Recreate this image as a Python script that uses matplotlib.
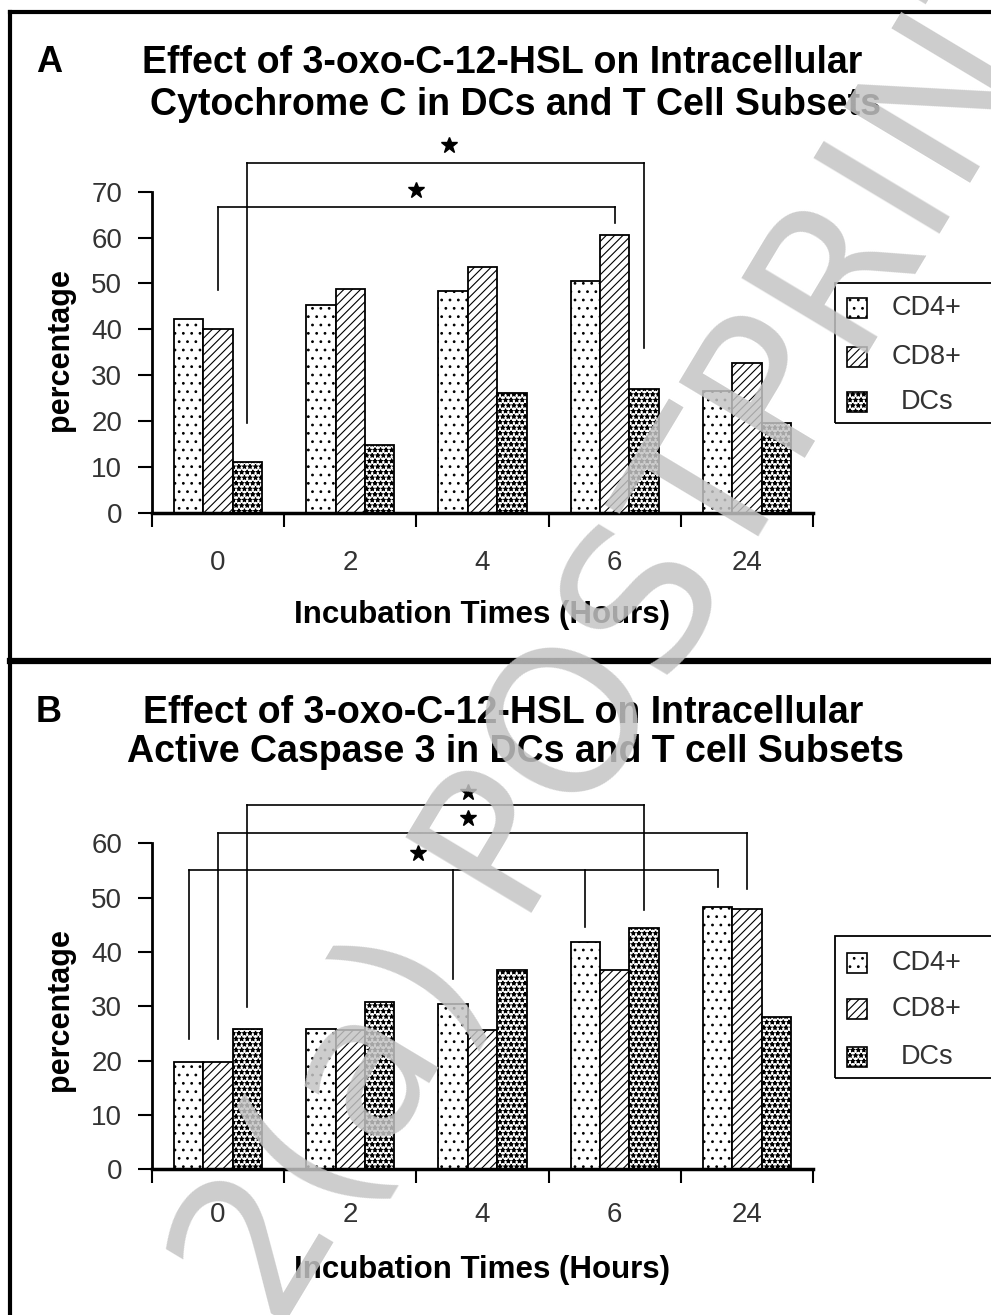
import numpy as np
import matplotlib
matplotlib.use("Agg")
import matplotlib.pyplot as plt
from matplotlib.patches import Rectangle
from matplotlib.lines import Line2D

W, H = 991, 1315

hours = ["0", "2", "4", "6", "24"]
series = ["CD4+", "CD8+", "DCs"]
hatches = ["..", "////", "***"]

# panel A: intracellular cytochrome C (%)
cyto_cd4 = [42.2, 45.2, 48.3, 50.5, 26.5]
cyto_cd8 = [40.0, 48.8, 53.5, 60.6, 32.6]
cyto_dc = [11.1, 14.7, 26.0, 26.9, 19.5]

# panel B: active caspase 3 (%)
casp_cd4 = [19.7, 25.9, 30.4, 41.8, 48.3]
casp_cd8 = [19.7, 25.6, 25.6, 36.6, 48.0]
casp_dc = [25.9, 30.8, 36.6, 44.4, 28.1]

# significance brackets: series, [(group, drop to)], level, star x, star y
brackets_a = [
    (1, [(0, 48.6), (3, 63.2)], 66.7, 1.50, 70.3),
    (2, [(0, 19.6), (3, 35.9)], 76.2, 1.745, 80.1),
]
brackets_b = [
    (2, [(0, 29.9), (3, 47.7)], 67.1, 1.89, 69.5),
    (1, [(0, 24.0), (4, 51.6)], 61.9, 1.89, 64.7),
    (0, [(0, 24.0), (2, 35.0), (3, 44.6), (4, 52.0)], 55.1, 1.51, 58.2),
]

plt.rcParams['font.family'] = ['Liberation Sans', 'DejaVu Sans']
plt.rcParams['hatch.linewidth'] = 0.8

bw = 0.222
offsets = [-bw, 0.0, bw]


def fx(x):
    return x / W


def fy(y):
    return 1 - y / H


def draw_panel(fig, rect, values, ymax, brackets, xpad, ylab_y, xlab_y):
    ax = fig.add_axes(rect)
    x = np.arange(len(hours))
    for i, vals in enumerate(values):
        ax.bar(x + offsets[i], vals, width=bw, color='white', edgecolor='black',
               hatch=hatches[i], linewidth=1.3, zorder=2)
    ax.set_xlim(-0.5, 4.5)
    ax.set_ylim(0, ymax)
    ax.set_yticks(range(0, ymax + 1, 10))
    ax.set_xticks(np.arange(-0.5, 5.0, 1.0))
    ax.set_xticklabels([])
    ax.set_xticks(x, minor=True)
    ax.set_xticklabels(hours, minor=True)
    ax.tick_params(axis='x', which='minor', length=0, pad=xpad, labelsize=20,
                   labelcolor='#333333')
    ax.tick_params(axis='x', which='major', length=10, width=1.5, direction='out')
    ax.tick_params(axis='y', length=10, width=1.5, direction='out', pad=11.5,
                   labelsize=20, labelcolor='#333333')
    for s in ['top', 'right']:
        ax.spines[s].set_visible(False)
    ax.spines['left'].set_linewidth(2)
    ax.spines['bottom'].set_linewidth(2.5)

    ax.set_ylabel('percentage', fontsize=22, fontweight='bold')
    ax.yaxis.label.set_va('center')
    ax.yaxis.set_label_coords(-0.139, ylab_y)
    ax.set_xlabel('Incubation Times (Hours)', fontsize=22.5, fontweight='bold')
    ax.xaxis.label.set_va('center')
    ax.xaxis.set_label_coords(0.5, xlab_y)

    for s, drops, level, sx, sy in brackets:
        xs = [g + offsets[s] for g, _ in drops]
        ax.plot([min(xs), max(xs)], [level, level], color='black', lw=1.2,
                clip_on=False, zorder=3)
        for (g, bottom), xv in zip(drops, xs):
            ax.plot([xv, xv], [bottom, level], color='black', lw=1.2,
                    clip_on=False, zorder=3)
        ax.plot(sx, sy, marker='*', ms=12, color='black', clip_on=False, zorder=3)
    return ax


def draw_legend(fig, top, bottom, rows):
    fig.add_artist(Rectangle((fx(835), fy(bottom)), fx(1000 - 835), (bottom - top) / H,
                             transform=fig.transFigure, fill=False, lw=1.3,
                             ec='black'))
    for name, hatch, yc in zip(series, hatches, rows):
        fig.add_artist(Rectangle((fx(847), fy(yc + 10)), fx(20), 20 / H,
                                 transform=fig.transFigure, facecolor='white',
                                 edgecolor='black', hatch=hatch, lw=1.2))
        fig.text(fx(927), fy(yc), name, ha='center', va='center', fontsize=19.5,
                 color='#333333')


fig = plt.figure(figsize=(W / 100, H / 100), dpi=100)

draw_panel(fig, [fx(152), fy(512.7), fx(661), 321 / H],
           [cyto_cd4, cyto_cd8, cyto_dc], 70, brackets_a, 27, 0.507, -0.319)
draw_panel(fig, [fx(152), fy(1169.3), fx(661), 326 / H],
           [casp_cd4, casp_cd8, casp_dc], 60, brackets_b, 23.5, 0.489, -0.309)

draw_legend(fig, 283, 423, [308, 357, 402])
draw_legend(fig, 936, 1078, [963, 1009, 1057])

# panel letters and titles
fig.text(fx(49), fy(63), 'A', fontsize=26, fontweight='bold', ha='center', va='center')
fig.text(fx(502), fy(63), 'Effect of 3-oxo-C-12-HSL on Intracellular',
         fontsize=27, fontweight='bold', ha='center', va='center')
fig.text(fx(515), fy(105), 'Cytochrome C in DCs and T Cell Subsets',
         fontsize=27, fontweight='bold', ha='center', va='center')
fig.text(fx(49), fy(713), 'B', fontsize=26, fontweight='bold', ha='center', va='center')
fig.text(fx(503), fy(713), 'Effect of 3-oxo-C-12-HSL on Intracellular',
         fontsize=27, fontweight='bold', ha='center', va='center')
fig.text(fx(515), fy(752), 'Active Caspase 3 in DCs and T cell Subsets',
         fontsize=27, fontweight='bold', ha='center', va='center')

# frame lines
fig.add_artist(Line2D([fx(10), fx(10)], [0, fy(12)], lw=3, color='black',
                      transform=fig.transFigure))
fig.add_artist(Line2D([fx(10), 1], [fy(12), fy(12)], lw=3, color='black',
                      transform=fig.transFigure))
fig.add_artist(Line2D([fx(10), 1], [fy(661), fy(661)], lw=4.5, color='black',
                      transform=fig.transFigure))

# watermark
fig.text(fx(468), fy(912), 'Figure 2(a) POSTPRINT', rotation=59, fontsize=145,
         color='#c4c4c4', family='DejaVu Sans', ha='center', va='center',
         rotation_mode='anchor', alpha=0.85, zorder=10)

fig.savefig('out.png', dpi=100)
